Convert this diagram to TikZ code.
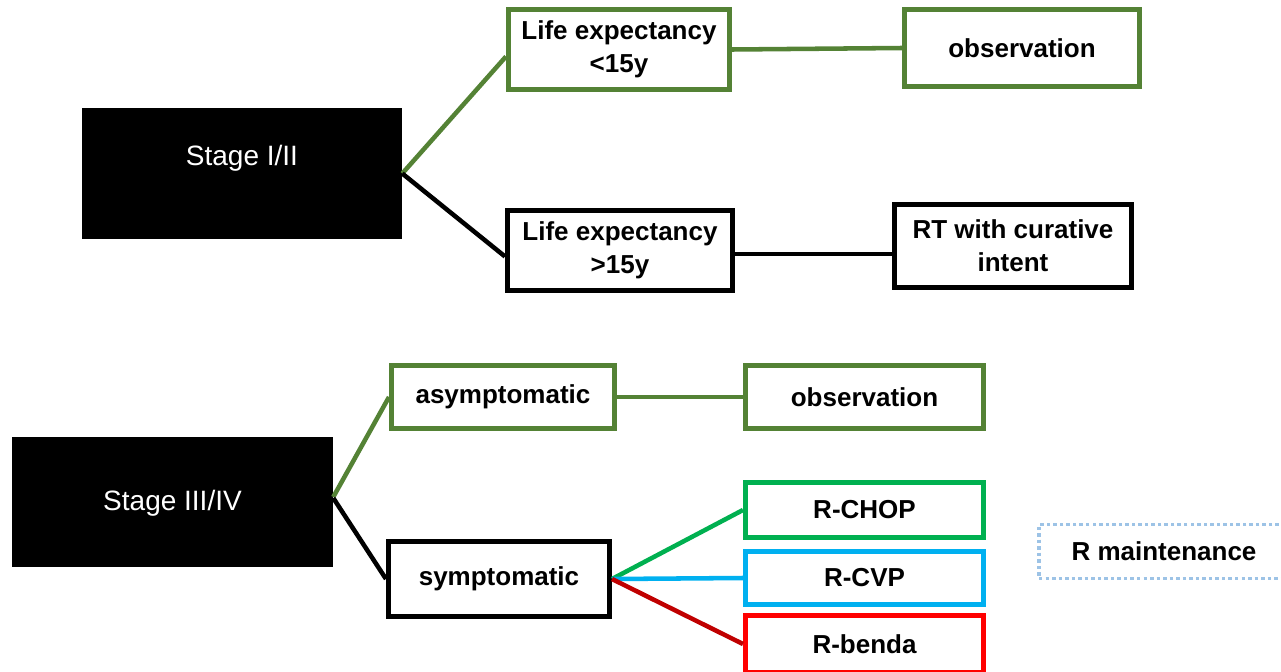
\documentclass[tikz,border=0pt]{standalone}
\usepackage{fontspec}
\setmainfont{Liberation Sans}
\usetikzlibrary{calc}
\definecolor{olive}{HTML}{548235}
\definecolor{chopgreen}{HTML}{00B050}
\definecolor{cvpblue}{HTML}{00B0F0}
\definecolor{bendared}{HTML}{FF0000}
\definecolor{bendaline}{HTML}{C00000}
\definecolor{maintblue}{HTML}{9DC3E6}
\begin{document}
\begin{tikzpicture}[x=0.75pt,y=-0.75pt,
  stagebox/.style={fill=black,draw=none,inner sep=0pt},
  stagetext/.style={text=white,font=\fontsize{21}{25}\selectfont,inner sep=0pt},
  optbox/.style={draw=#1,line width=3.4pt,fill=white,inner sep=0pt,align=center,
     font=\fontsize{19.5}{25}\selectfont\bfseries},
  conn/.style={draw=#1,line width=3.4pt},
  bx/.style n args={2}{minimum width=#1*0.75pt,minimum height=#2*0.75pt}
]
\useasboundingbox (0,0) rectangle (1281,671);
\begin{scope}
\clip (0,0) rectangle (1281,671);
% top part
\node[stagebox,bx={320}{131}] (s1) at (242,173.5) {};
\node[stagetext] (s1t) at (242,158) {Stage I/II};
\node[optbox=olive,bx={221.5}{80.5}] (le1) at (619,49.5) {Life expectancy\\<15y};
\node[optbox=olive,bx={235.5}{77.5}] (obs1) at (1022,48) {observation};
\node[optbox=black,bx={225.5}{80.5}] (le2) at (620,250.5) {Life expectancy\\>15y};
\node[optbox=black,bx={237.5}{83.5}] (rt) at (1013,246) {RT with curative\\intent};
% bottom part
\node[stagebox,bx={321}{130}] (s3) at (172.5,502) {};
\node[stagetext] (s3t) at (172.5,503) {Stage III/IV};
\node[optbox=olive,bx={223.5}{63.5}] (asym) at (503,397) {asymptomatic};
\node[optbox=olive,bx={238.5}{63.5}] (obs2) at (864.5,397) {observation};
\node[optbox=black,bx={221.5}{75.5}] (symp) at (499,579) {symptomatic};
\node[optbox=chopgreen,bx={238.5}{55.5}] (rchop) at (864.5,510) {R-CHOP};
\node[optbox=cvpblue,bx={238.5}{53.5}] (rcvp) at (864.5,578) {R-CVP};
\node[optbox=bendared,bx={238.5}{57.5}] (rbenda) at (864.5,644) {R-benda};
\node[optbox=maintblue,line width=2.6pt,dash pattern=on 2.6pt off 2.3pt,bx={250}{53.5}] (rmaint) at (1164,551.5) {R maintenance};
% connectors
\draw[conn=olive] (s1.east) -- ($(le1.west)+(0,7)$);
\draw[conn=black] (s1.east) -- ($(le2.west)+(0,6)$);
\draw[conn=olive] (le1.east) -- (obs1.west);
\draw[conn=black] (le2.east |- 0,254) -- (rt.west |- 0,254);
\draw[conn=olive] ($(s3.east)+(0,-5)$) -- (asym.west);
\draw[conn=black] ($(s3.east)+(0,-4)$) -- (symp.west);
\draw[conn=olive] (asym.east) -- (obs2.west);
\draw[conn=chopgreen] (symp.east) -- (rchop.west);
\draw[conn=cvpblue] (symp.east) -- (rcvp.west);
\draw[conn=bendaline] (symp.east) -- (rbenda.west);
\end{scope}
\end{tikzpicture}
\end{document}
